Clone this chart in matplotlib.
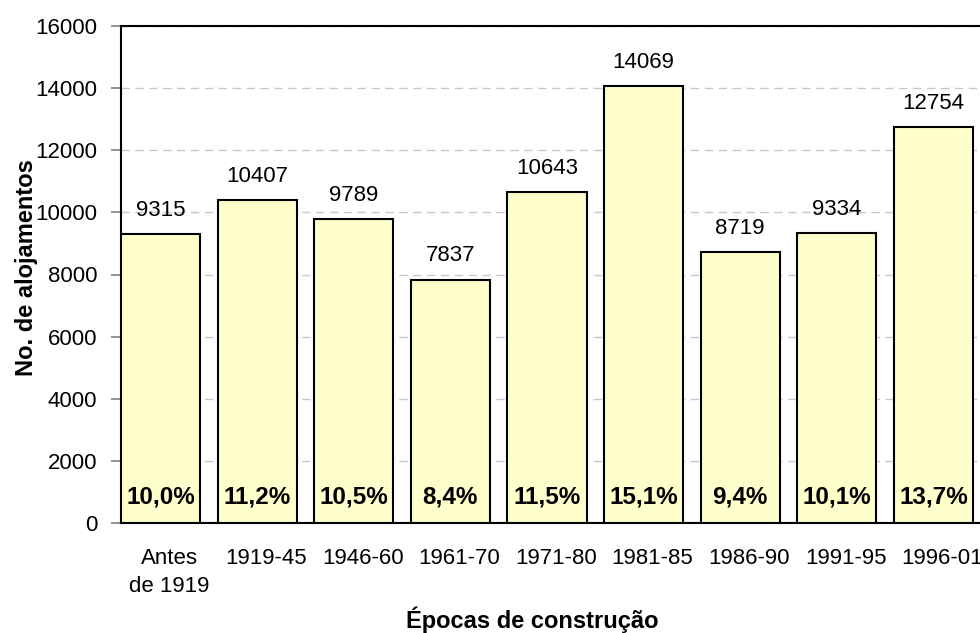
import matplotlib.pyplot as plt
import matplotlib.transforms as mtransforms
import numpy as np

# Data
categories = ['Antes\nde 1919', '1919-45', '1946-60', '1961-70', '1971-80',
              '1981-85', '1986-90', '1991-95', '1996-01']
alojamentos = [9315, 10407, 9789, 7837, 10643, 14069, 8719, 9334, 12754]
percentagens = ['10,0%', '11,2%', '10,5%', '8,4%', '11,5%',
                '15,1%', '9,4%', '10,1%', '13,7%']

plt.rcParams['font.family'] = ['Liberation Sans', 'DejaVu Sans']

W, H = 980, 633
fig = plt.figure(figsize=(W / 100, H / 100), dpi=100)

# axes placed in pixels; right edge runs past the image like the original
left_px, right_px, top_px, bottom_px = 121, 1010, 26, 523
ax = fig.add_axes([left_px / W, (H - bottom_px) / H,
                   (right_px - left_px) / W, (bottom_px - top_px) / H])

x = np.arange(len(categories))
bar_w = 0.82
ax.bar(x, alojamentos, width=bar_w, color='#FFFFCC', edgecolor='black',
       linewidth=1.5, zorder=3)

unit_px = 96.6
ax.set_xlim(-bar_w / 2, -bar_w / 2 + (right_px - left_px) / unit_px)
ax.set_ylim(0, 16000)
ax.set_yticks(np.arange(0, 16001, 2000))
ax.set_xticks(x)
ax.set_xticklabels(categories, fontsize=16, linespacing=1.45)
ax.tick_params(axis='x', length=0, pad=18)
ax.tick_params(axis='y', labelsize=16, length=7, width=1.2, pad=10,
               color='#808080')

# category labels sit a little right of the bar centres in the original
shift = mtransforms.ScaledTranslation(9 / 100, 0, fig.dpi_scale_trans)
for lbl in ax.get_xticklabels():
    lbl.set_transform(lbl.get_transform() + shift)

ax.yaxis.grid(True, linestyle=(0, (6, 4)), color='#C8C8C8', linewidth=1)
ax.set_axisbelow(True)
for s in ['top', 'left', 'bottom']:
    ax.spines[s].set_linewidth(1.5)
ax.spines['right'].set_visible(False)

for xi, v, p in zip(x, alojamentos, percentagens):
    ax.annotate(str(v), (xi, v), xytext=(0, 17), textcoords='offset points',
                ha='center', va='center', fontsize=16)
    ax.text(xi, 837, p, ha='center', va='center', fontsize=17.5,
            fontweight='bold', zorder=4)

fig.text(26 / W, (H - 268) / H, 'No. de alojamentos', rotation=90,
         ha='center', va='center', fontsize=17, fontweight='bold')
fig.text(532 / W, (H - 620) / H, 'Épocas de construção', ha='center',
         va='center', fontsize=17, fontweight='bold')

fig.savefig('out.png', dpi=100)
